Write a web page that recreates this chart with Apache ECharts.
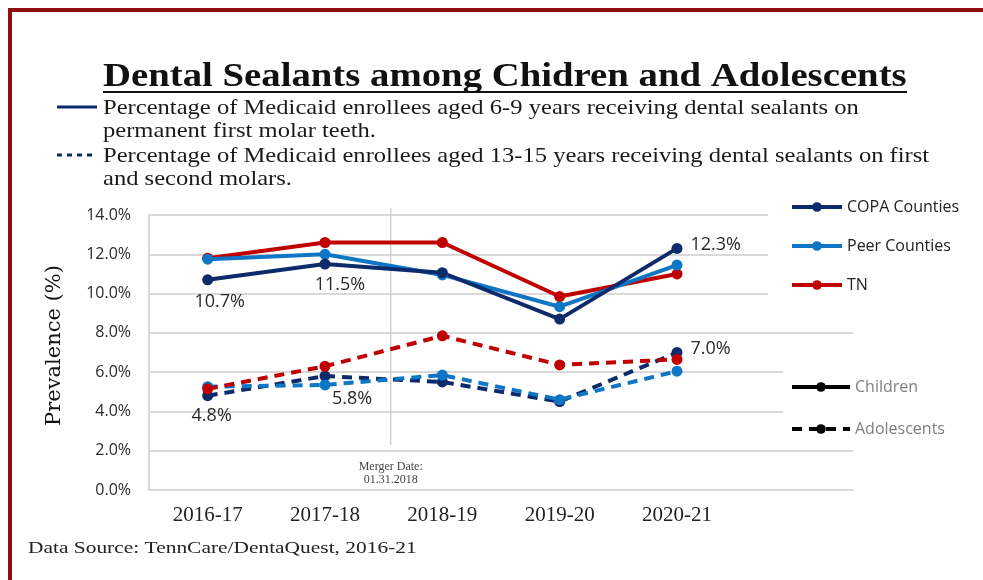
<!DOCTYPE html>
<html>
<head>
<meta charset="utf-8">
<script src="https://cdn.jsdelivr.net/npm/echarts@6/dist/echarts.min.js"></script>
<style>
  html, body { margin: 0; padding: 0; background: #fff; }
  #main { width: 983px; height: 580px; }
</style>
</head>
<body>
<div id="main"></div>
<script>
// years on the x axis (last slot is empty space, the grid runs past it)
var years = ['2016-17', '2017-18', '2018-19', '2019-20', '2020-21', ''];

// children, aged 6-9 (solid)
var copaChildren = [10.7, 11.5, 11.06, 8.7, 12.3];
var peerChildren = [11.75, 12.0, 10.95, 9.33, 11.45];
var tnChildren = [11.8, 12.6, 12.6, 9.85, 11.0];

// adolescents, aged 13-15 (dashed)
var copaAdol = [4.8, 5.8, 5.5, 4.5, 7.0];
var peerAdol = [5.26, 5.35, 5.85, 4.6, 6.05];
var tnAdol = [5.15, 6.3, 7.85, 6.37, 6.65];

var yTicks = [0, 2, 4, 6, 8, 10, 12, 14];
var mergerPos = 1.56;   // between 2017-18 and 2018-19

var navy = '#0d2a6b';
var blue = '#0f75c5';
var red = '#c00000';

function drawDentalChart() {
    var myChart = echarts.init(document.getElementById('main'));

    var labelFont = {
        show: true,
        color: '#2b2b2b',
        fontFamily: 'Open Sans',
        fontSize: 18,
        formatter: function (p) { return p.value.toFixed(1) + '%'; }
    };

    // only a few points carry a value label
    function withLabels(values, labels) {
        return values.map(function (v, i) {
            if (!labels[i]) return v;
            return { value: v, label: Object.assign({}, labelFont, labels[i]) };
        });
    }

    function lineSeries(name, color, values, dashed, labels) {
        return {
            name: name,
            type: 'line',
            data: withLabels(values, labels || {}),
            symbol: 'circle',
            symbolSize: 11,
            z: dashed ? 3 : 4,
            itemStyle: { color: color },
            lineStyle: { color: color, width: 4, type: dashed ? [10, 7] : 'solid' },
            emphasis: { disabled: true },
            silent: true
        };
    }

    var option = {
        animation: false,
        textStyle: { fontFamily: 'Open Sans' },
        grid: {
            left: 149,
            right: 130,
            top: 215,
            bottom: 90,
            containLabel: false
        },
        legend: [
            {
                orient: 'vertical',
                left: 768,
                top: 193,
                padding: [6, 20, 10, 22],
                backgroundColor: '#fff',
                itemWidth: 50,
                itemHeight: 12,
                itemGap: 23,
                lineStyle: { width: 4 },
                data: ['COPA Counties', 'Peer Counties', 'TN'],
                textStyle: { color: '#222', fontSize: 16, fontFamily: 'Open Sans' },
                z: 5
            },
            {
                orient: 'vertical',
                left: 783,
                top: 342,
                padding: [37, 40, 10, 7],
                backgroundColor: '#fff',
                itemWidth: 58,
                itemHeight: 12,
                itemGap: 26,
                lineStyle: { width: 4 },
                data: ['Children', 'Adolescents'],
                textStyle: { color: '#7f7f7f', fontSize: 16, fontFamily: 'Open Sans' },
                z: 5
            }
        ],
        graphic: [
            // frame
            {
                type: 'polyline',
                shape: { points: [[10, 600], [10, 10], [1000, 10]] },
                style: { stroke: '#8e0f0f', lineWidth: 4, fill: null }
            },
            {
                type: 'text',
                x: 103,
                y: 60,
                scaleX: 1.14,
                style: {
                    text: 'Dental Sealants among Chidren and Adolescents',
                    font: 'bold 34px "Liberation Serif"',
                    fill: '#111'
                }
            },
            {
                type: 'line',
                shape: { x1: 103, y1: 92, x2: 907, y2: 92 },
                style: { stroke: '#111', lineWidth: 2 }
            },
            {
                type: 'line',
                shape: { x1: 57, y1: 107, x2: 97, y2: 107 },
                style: { stroke: navy, lineWidth: 3 }
            },
            {
                type: 'line',
                shape: { x1: 57, y1: 155, x2: 97, y2: 155 },
                style: { stroke: navy, lineWidth: 3, lineDash: [5, 5] }
            },
            {
                type: 'text',
                x: 103,
                y: 97,
                scaleX: 1.17,
                style: {
                    text: 'Percentage of Medicaid enrollees aged 6-9 years receiving dental sealants on\npermanent first molar teeth.',
                    font: '21px "Liberation Serif"',
                    lineHeight: 23,
                    fill: '#1a1a1a'
                }
            },
            {
                type: 'text',
                x: 103,
                y: 145,
                scaleX: 1.17,
                style: {
                    text: 'Percentage of Medicaid enrollees aged 13-15 years receiving dental sealants on first\nand second molars.',
                    font: '21px "Liberation Serif"',
                    lineHeight: 23,
                    fill: '#1a1a1a'
                }
            },
            {
                type: 'text',
                x: 28,
                y: 540,
                scaleX: 1.26,
                style: {
                    text: 'Data Source: TennCare/DentaQuest, 2016-21',
                    font: '17px "Liberation Serif"',
                    fill: '#222'
                }
            }
        ],
        xAxis: [
            {
                type: 'category',
                data: years,
                boundaryGap: true,
                axisLine: { show: true, lineStyle: { color: '#d9d9d9', width: 2 } },
                axisTick: { show: false },
                axisLabel: {
                    color: '#222',
                    fontFamily: 'Liberation Serif',
                    fontSize: 21,
                    margin: 15
                },
                splitLine: { show: false }
            },
            {
                // hidden value axis used to place the merger marker between years
                type: 'value',
                min: -0.5,
                max: years.length - 0.5,
                show: false
            }
        ],
        yAxis: {
            type: 'value',
            min: yTicks[0],
            max: yTicks[yTicks.length - 1],
            interval: 2,
            name: 'Prevalence (%)',
            nameLocation: 'middle',
            nameGap: 84,
            nameTextStyle: {
                color: '#111',
                fontFamily: 'DejaVu Serif',
                fontSize: 21,
                padding: [0, 0, 0, 14]
            },
            axisLine: { show: true, onZero: false, lineStyle: { color: '#d9d9d9', width: 2 } },
            axisTick: { show: false },
            axisLabel: {
                color: '#2b2b2b',
                fontFamily: 'Open Sans',
                fontSize: 16,
                margin: 18,
                formatter: function (v) { return v.toFixed(1) + '%'; }
            },
            splitLine: { show: true, lineStyle: { color: '#d9d9d9', width: 2 } }
        },
        series: [
            {
                name: 'merger',
                type: 'line',
                xAxisIndex: 1,
                clip: false,
                silent: true,
                symbol: 'circle',
                symbolSize: 1,
                showSymbol: true,
                z: 1,
                itemStyle: { color: 'rgba(0,0,0,0)' },
                lineStyle: { color: '#d0d0d0', width: 1.5 },
                data: [
                    {
                        value: [mergerPos, 2.3],
                        label: {
                            show: true,
                            position: 'bottom',
                            distance: 15,
                            formatter: 'Merger Date:\n01.31.2018',
                            fontFamily: 'Liberation Serif',
                            fontSize: 12,
                            lineHeight: 13,
                            color: '#444'
                        }
                    },
                    [mergerPos, 14.35]
                ]
            },
            lineSeries('Adol COPA', navy, copaAdol, true, {
                0: { position: 'bottom', distance: 6, offset: [4, 0] },
                1: { position: 'bottom', distance: 8, offset: [27, 0] },
                4: { position: 'right', distance: 8, offset: [0, -4] }
            }),
            lineSeries('Adol Peer', blue, peerAdol, true),
            lineSeries('Adol TN', red, tnAdol, true),
            lineSeries('TN', red, tnChildren, false),
            lineSeries('Peer Counties', blue, peerChildren, false),
            lineSeries('COPA Counties', navy, copaChildren, false, {
                0: { position: 'bottom', distance: 8, offset: [12, 0] },
                1: { position: 'bottom', distance: 6, offset: [15, 0] },
                4: { position: 'right', distance: 8, offset: [0, -4] }
            }),
            {
                name: 'Children',
                type: 'line',
                data: [],
                symbol: 'circle',
                symbolSize: 11,
                itemStyle: { color: '#000' },
                lineStyle: { color: '#000', width: 4 }
            },
            {
                name: 'Adolescents',
                type: 'line',
                data: [],
                symbol: 'circle',
                symbolSize: 11,
                itemStyle: { color: '#000' },
                lineStyle: { color: '#000', width: 4, type: [10, 7] }
            }
        ]
    };

    myChart.setOption(option);
}

drawDentalChart();
</script>
</body>
</html>
